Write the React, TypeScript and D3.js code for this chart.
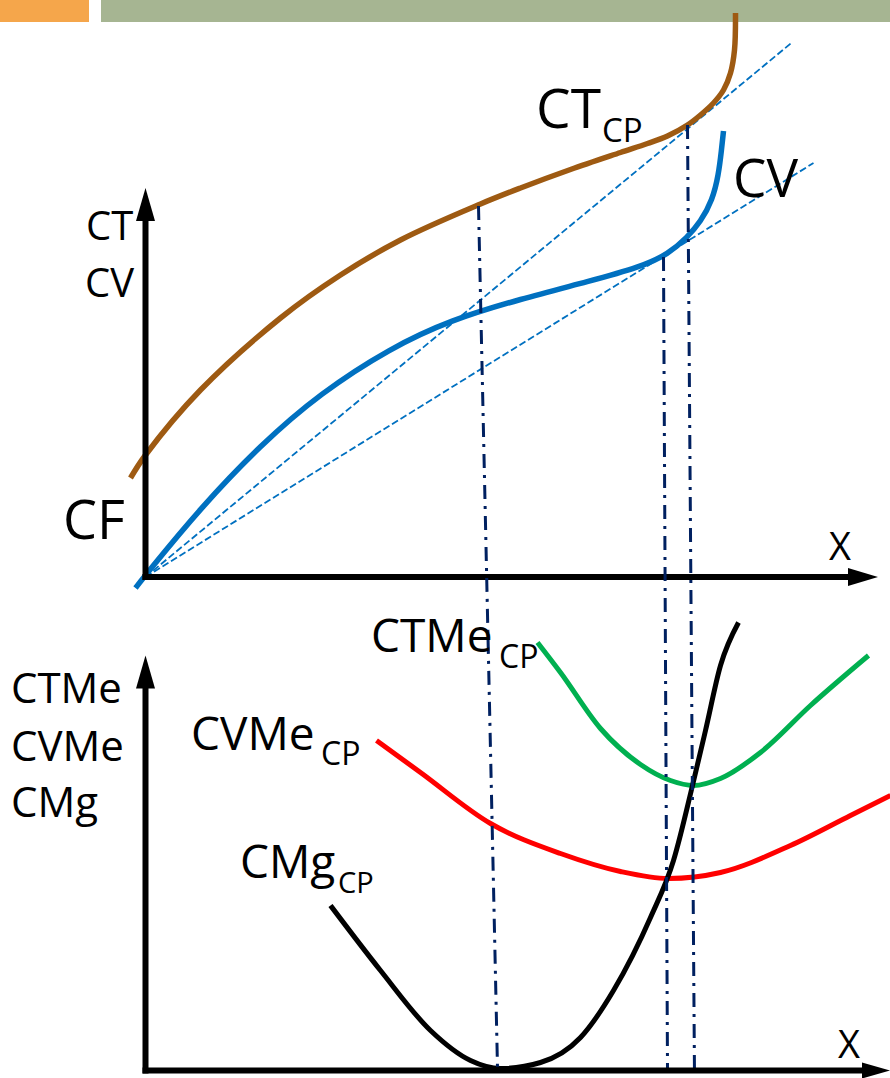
import React from "react";
import * as d3 from "d3";

// ---------- data (quantity q, cost value) ----------
const ctQ = [-3, 0, 11, 27, 39, 51, 67, 75, 85, 95, 100.4, 104.4, 108.4, 111, 113.6, 115.6, 117, 117.8, 118];
const ctC = [19.8, 24.4, 37.4, 51.8, 60.4, 67.4, 74.6, 77.8, 81.5, 84.9, 86.7, 88.2, 90.4, 92.4, 94.8, 97.4, 100.8, 105.4, 112.8];

const cvQ = [-2, 0, 11, 23, 35, 49, 61, 75, 89, 99, 104.6, 108.4, 111, 113.4, 114.6, 115.2, 115.6];
const cvC = [-2.2, 0.4, 13.8, 26.4, 36.8, 45.8, 51.4, 55.6, 59.2, 62, 64.6, 68, 71, 75.4, 80.4, 85.4, 89.2];

const tanEndQ = [129.4, 133.6];
const tanEndC = [107, 82.8];

const ctmeQ = [78.4, 83, 91, 99, 105, 109.6, 115, 123, 133, 144.6];
const ctmeV = [85.6, 79.6, 68.4, 61.2, 58, 57, 58.4, 63.6, 73, 83];

const cvmeQ = [46.2, 55, 69, 83, 95, 104.6, 115, 129, 141, 149];
const cvmeV = [66, 59.6, 49.4, 43.4, 39.8, 38.4, 39.6, 45, 51, 55];

const cmgQ = [37, 47, 57, 65, 71, 79, 87, 93.6, 101, 105.6, 109.4, 112, 115, 118.6];
const cmgV = [33, 20, 8, 2, 0.4, 1.6, 6.6, 16, 30.6, 42, 57, 68, 81, 89.6];

const dropQTop = [66.6, 103.6, 108.4];
const dropCTop = [74.2, 64, 90.4];
const dropQBot = [70.4, 104.4, 109.8];
const dropVBot = [0.6, 0.4, -1];

const W = 890;
const H = 1078;
const FONT = "'Open Sans', sans-serif";

export default function App() {
  const x = d3.scaleLinear().domain([0, 145]).range([145.5, 870.5]);
  const yTop = d3.scaleLinear().domain([0, 111]).range([577, 22]);
  const yBot = d3.scaleLinear().domain([0, 83]).range([1070.5, 655.5]);

  const lineCT = d3
    .line<[number, number]>()
    .x((d) => x(d[0]))
    .y((d) => yTop(d[1]))
    .curve(d3.curveCatmullRom.alpha(0.5));
  const lineCV = d3
    .line<[number, number]>()
    .x((d) => x(d[0]))
    .y((d) => yTop(d[1]))
    .curve(d3.curveBasis);
  const lineBot = d3
    .line<[number, number]>()
    .x((d) => x(d[0]))
    .y((d) => yBot(d[1]))
    .curve(d3.curveMonotoneX);

  const zip = (a: number[], b: number[]) => a.map((v, i) => [v, b[i]] as [number, number]);

  const ox = x(0);
  const oyT = yTop(0);
  const oyB = yBot(0);

  const tipTY = yTop(77.8);
  const tipTX = x(146.5);
  const tipBY = yBot(83);
  const tipBX = x(148.9);

  const dashDot = "14,7,3,7";

  return (
    <svg
      width={W}
      height={H}
      style={{ position: "absolute", left: 0, top: 0, display: "block", background: "#fff" }}
      fontFamily={FONT}
    >
      <rect x={0} y={0} width={89} height={22} fill="#F5A64B" />
      <rect x={101} y={0} width={789} height={22} fill="#A6B592" />

      {tanEndQ.map((q, i) => (
        <line
          key={"tan" + i}
          x1={ox}
          y1={oyT}
          x2={x(q)}
          y2={yTop(tanEndC[i])}
          stroke="#0070C0"
          strokeWidth={1.8}
          strokeDasharray="7,3"
        />
      ))}

      <path d={lineCT(zip(ctQ, ctC)) || ""} fill="none" stroke="#9E5A12" strokeWidth={5.5} />
      <path d={lineCV(zip(cvQ, cvC)) || ""} fill="none" stroke="#0070C0" strokeWidth={5.5} />

      <line x1={ox} y1={oyT + 3} x2={ox} y2={tipTY + 30} stroke="#000" strokeWidth={6} />
      <path d={`M${ox},${tipTY} L${ox - 9.5},${tipTY + 33} L${ox + 9.5},${tipTY + 33} Z`} fill="#000" />
      <line x1={ox - 3} y1={oyT} x2={tipTX - 26} y2={oyT} stroke="#000" strokeWidth={6} />
      <path d={`M${tipTX},${oyT} L${tipTX - 30},${oyT - 9} L${tipTX - 30},${oyT + 9} Z`} fill="#000" />

      <path d={lineBot(zip(cvmeQ, cvmeV)) || ""} fill="none" stroke="#FF0000" strokeWidth={5} />
      <path d={lineBot(zip(ctmeQ, ctmeV)) || ""} fill="none" stroke="#00B050" strokeWidth={5} />
      <path d={lineBot(zip(cmgQ, cmgV)) || ""} fill="none" stroke="#000" strokeWidth={5} />

      {dropQTop.map((q, i) => (
        <line
          key={"drop" + i}
          x1={x(q)}
          y1={yTop(dropCTop[i])}
          x2={x(dropQBot[i])}
          y2={yBot(dropVBot[i])}
          stroke="#002060"
          strokeWidth={3}
          strokeDasharray={dashDot}
        />
      ))}

      <line x1={ox} y1={oyB + 3} x2={ox} y2={tipBY + 30} stroke="#000" strokeWidth={6} />
      <path d={`M${ox},${tipBY} L${ox - 9.5},${tipBY + 33} L${ox + 9.5},${tipBY + 33} Z`} fill="#000" />
      <line x1={ox - 3} y1={oyB} x2={tipBX - 24} y2={oyB} stroke="#000" strokeWidth={6} />
      <path d={`M${tipBX},${oyB} L${tipBX - 28},${oyB - 8} L${tipBX - 28},${oyB + 8} Z`} fill="#000" />

      <g fill="#000">
        <text x={86} y={240} fontSize={40}>CT</text>
        <text x={85} y={297} fontSize={40}>CV</text>
        <text x={63} y={539} fontSize={54}>CF</text>
        <text x={829} y={560} fontSize={38}>X</text>

        <text x={536} y={128} fontSize={55}>CT</text>
        <text x={602} y={142} fontSize={33}>CP</text>
        <text x={733} y={197} fontSize={53}>CV</text>

        <text x={11} y={703} fontSize={42}>CTMe</text>
        <text x={11} y={761} fontSize={42}>CVMe</text>
        <text x={11} y={817} fontSize={42}>CMg</text>

        <text x={371} y={652} fontSize={46}>CTMe</text>
        <text x={499} y={668} fontSize={32}>CP</text>

        <text x={191} y={750} fontSize={46}>CVMe</text>
        <text x={321} y={765} fontSize={32}>CP</text>

        <text x={240} y={878} fontSize={46}>CMg</text>
        <text x={338} y={893} fontSize={29}>CP</text>

        <text x={838} y={1058} fontSize={38}>X</text>
      </g>
    </svg>
  );
}
